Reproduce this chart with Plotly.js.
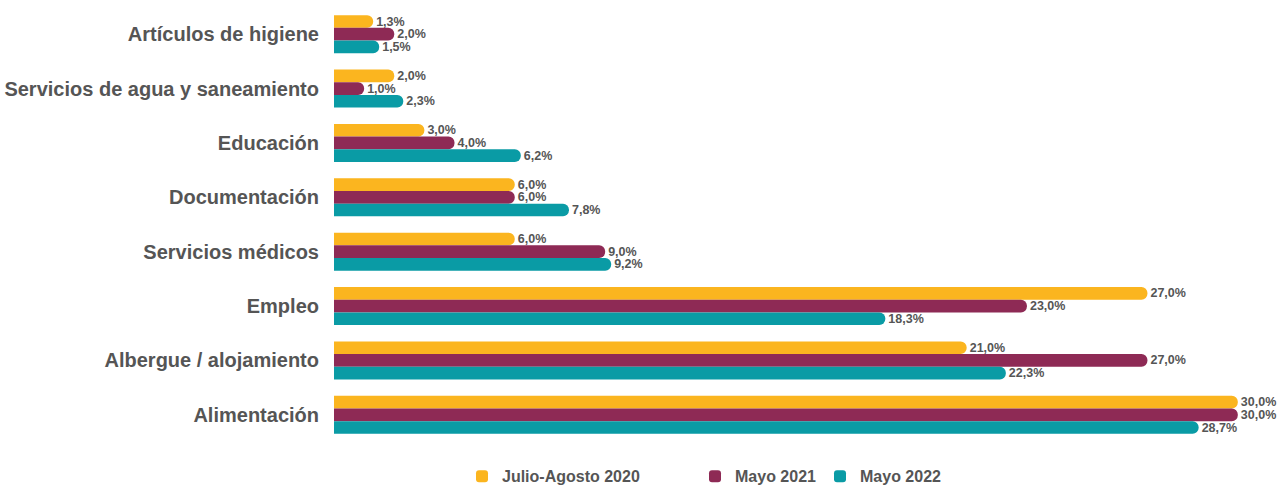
<!DOCTYPE html>
<html><head><meta charset="utf-8">
<script src="https://cdn.plot.ly/plotly-3.0.1.min.js"></script>
<style>html,body{margin:0;padding:0;background:#fff}#chart{width:1280px;height:486px}</style>
</head><body><div id="chart"></div>
<script>
const categories = ["Artículos de higiene","Servicios de agua y saneamiento","Educación","Documentación","Servicios médicos","Empleo","Albergue / alojamiento","Alimentación"];
const seriesNames = ["Julio-Agosto 2020","Mayo 2021","Mayo 2022"];
const julioAgosto2020 = [1.3, 2.0, 3.0, 6.0, 6.0, 27.0, 21.0, 30.0];
const mayo2021 = [2.0, 1.0, 4.0, 6.0, 9.0, 23.0, 27.0, 30.0];
const mayo2022 = [1.5, 2.3, 6.2, 7.8, 9.2, 18.3, 22.3, 28.7];
const colors = ["#FBB51F", "#8E2A55", "#0A9BA5"];
const allSeries = [julioAgosto2020, mayo2021, mayo2022];
const fmt = v => v.toFixed(1).replace('.', ',') + '%';
const legendIds = ["legend","legend2","legend3"];
const FONT = 'Liberation Sans, Arial, sans-serif';
const traces = allSeries.map((vals, i) => ({
  type: 'bar', orientation: 'h', name: seriesNames[i],
  y: categories, x: vals, text: vals.map(fmt),
  textposition: 'outside', cliponaxis: false, constraintext: 'none',
  textfont: {family: FONT, size: 12.5, color: '#555', weight: 'bold'},
  marker: {color: colors[i], cornerradius: 7, line: {width: 0}},
  legend: legendIds[i], hoverinfo: 'none'
}));
const legFont = {family: FONT, size: 16, color: '#555', weight: 'bold'};
const legendBase = {orientation: 'h', xref: 'container', yref: 'container', yanchor: 'middle', y: 0.02, xanchor: 'left', font: legFont, bgcolor: 'rgba(0,0,0,0)', itemwidth: 30};
const layout = {
  width: 1280, height: 486,
  margin: {l: 334, r: 0, t: 7, b: 44},
  paper_bgcolor: '#fff', plot_bgcolor: '#fff',
  barmode: 'group', bargap: 0.3, bargroupgap: 0,
  xaxis: {range: [0, 31.4], showgrid: false, zeroline: false, showticklabels: false, showline: false, fixedrange: true},
  yaxis: {autorange: 'reversed', showgrid: false, zeroline: false, showline: false, ticks: '', ticklabelstandoff: 14,
    tickfont: {family: FONT, size: 20, color: '#555', weight: 'bold'}},
  legend: Object.assign({}, legendBase, {x: 462/1280}),
  legend2: Object.assign({}, legendBase, {x: 695/1280}),
  legend3: Object.assign({}, legendBase, {x: 820/1280}),
  showlegend: true
};
Plotly.newPlot('chart', traces, layout, {displayModeBar: false, staticPlot: true});
</script></body></html>
